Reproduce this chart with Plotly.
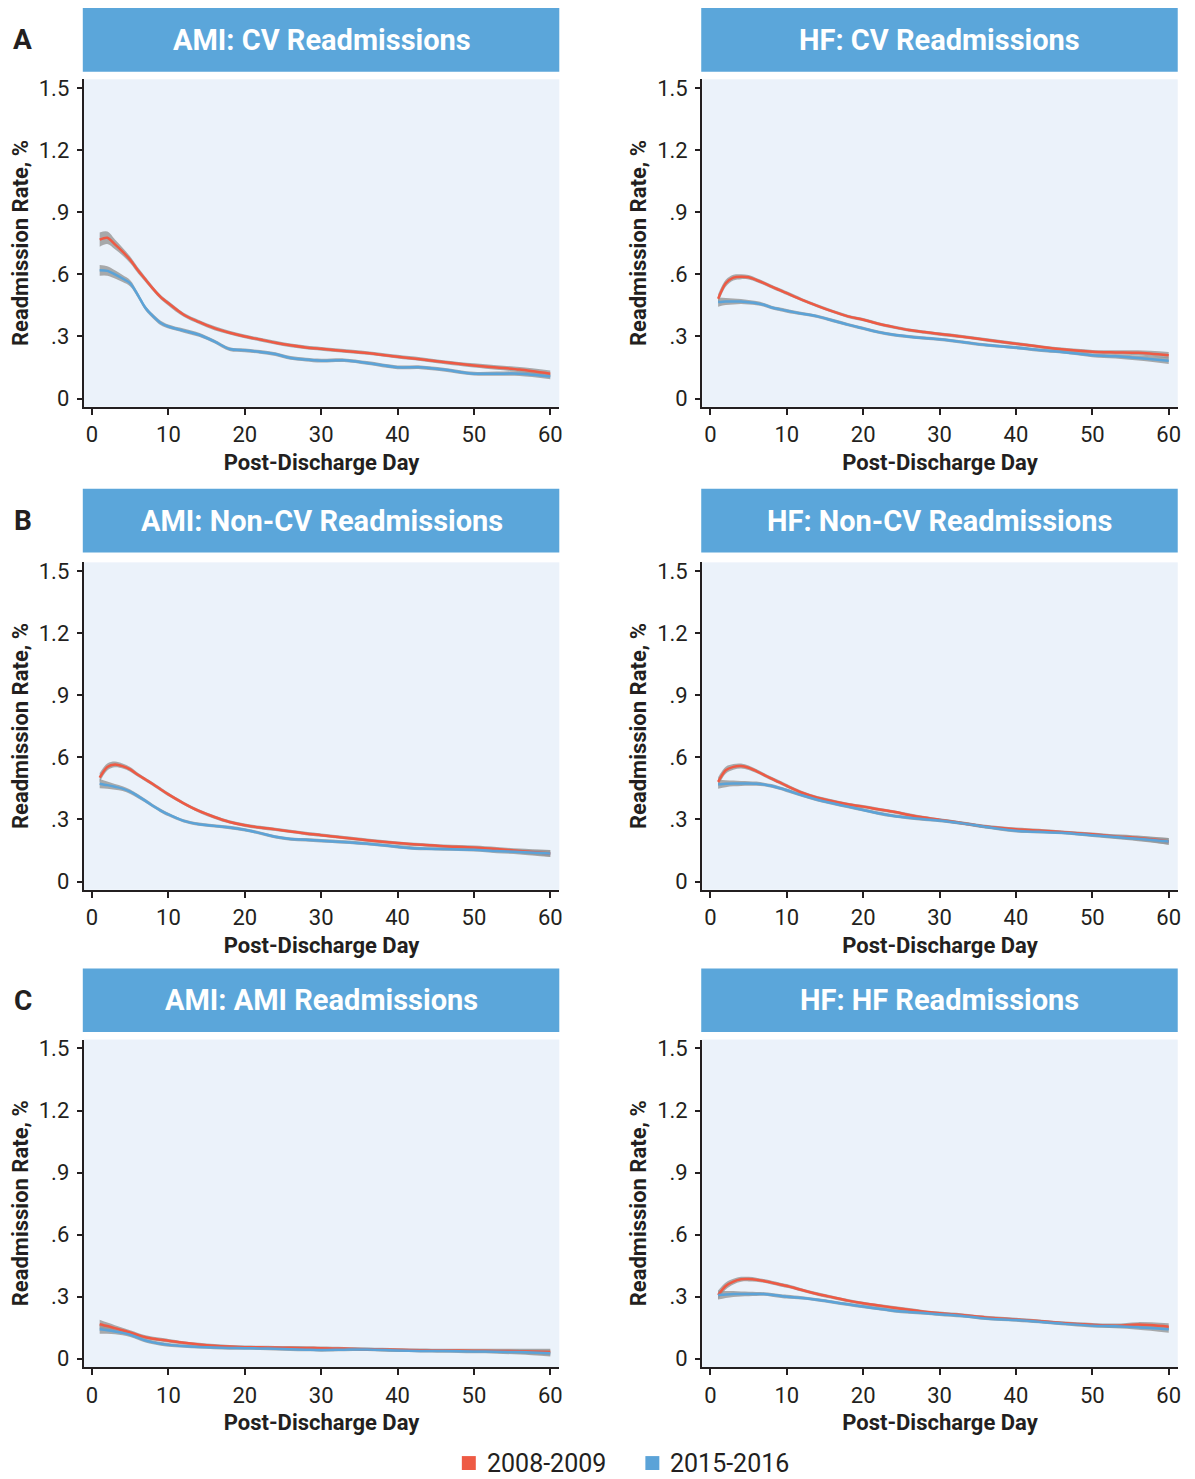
import plotly.graph_objects as go

W, H = 1195, 1479

DAYS = [1, 2, 3, 4, 5, 6, 7, 8, 9, 10, 12, 14, 16, 18, 20, 22, 24, 26, 28, 30,
        33, 36, 40, 43, 46, 50, 53, 56, 60]

X_TICKS = [0, 10, 20, 30, 40, 50, 60]
Y_TICKS = [0, 0.3, 0.6, 0.9, 1.2, 1.5]
Y_TICK_TEXT = ["0", ".3", ".6", ".9", "1.2", "1.5"]

SERIES_NAMES = ["2008-2009", "2015-2016"]

# ---- A: CV readmissions ----
AMI_CV_0809 = [0.768, 0.777, 0.745, 0.71, 0.67, 0.62, 0.575, 0.53, 0.49, 0.46, 0.405, 0.37,
               0.34, 0.318, 0.30, 0.285, 0.27, 0.257, 0.247, 0.24, 0.23, 0.22, 0.202, 0.19,
               0.176, 0.16, 0.15, 0.14, 0.12]
AMI_CV_1516 = [0.62, 0.617, 0.60, 0.58, 0.557, 0.50, 0.437, 0.397, 0.365, 0.348, 0.328, 0.308,
               0.276, 0.239, 0.233, 0.225, 0.215, 0.196, 0.188, 0.183, 0.185, 0.172, 0.151,
               0.151, 0.14, 0.12, 0.12, 0.12, 0.106]
HF_CV_0809 = [0.482, 0.557, 0.584, 0.589, 0.586, 0.573, 0.558, 0.541, 0.525, 0.509, 0.477,
              0.448, 0.421, 0.397, 0.381, 0.361, 0.345, 0.331, 0.321, 0.312, 0.299, 0.284,
              0.265, 0.251, 0.238, 0.226, 0.223, 0.221, 0.209]
HF_CV_1516 = [0.466, 0.469, 0.469, 0.469, 0.465, 0.461, 0.453, 0.44, 0.432, 0.424, 0.41, 0.397,
              0.377, 0.357, 0.339, 0.321, 0.308, 0.299, 0.292, 0.286, 0.273, 0.259, 0.246,
              0.234, 0.225, 0.209, 0.204, 0.196, 0.183]

# ---- B: Non-CV readmissions ----
AMI_NCV_0809 = [0.502, 0.554, 0.566, 0.558, 0.542, 0.516, 0.493, 0.47, 0.445, 0.421, 0.378,
                0.341, 0.312, 0.288, 0.272, 0.261, 0.252, 0.242, 0.232, 0.224, 0.212, 0.2,
                0.186, 0.178, 0.171, 0.165, 0.157, 0.147, 0.136]
AMI_NCV_1516 = [0.473, 0.466, 0.458, 0.449, 0.434, 0.413, 0.39, 0.365, 0.343, 0.324, 0.293,
                0.277, 0.269, 0.261, 0.25, 0.234, 0.216, 0.205, 0.202, 0.197, 0.191, 0.183,
                0.168, 0.159, 0.157, 0.154, 0.147, 0.143, 0.135]
HF_NCV_0809 = [0.482, 0.538, 0.554, 0.558, 0.55, 0.534, 0.516, 0.497, 0.48, 0.462, 0.429,
               0.405, 0.388, 0.373, 0.362, 0.349, 0.337, 0.322, 0.309, 0.298, 0.282, 0.266,
               0.253, 0.247, 0.239, 0.228, 0.218, 0.21, 0.194]
HF_NCV_1516 = [0.47, 0.473, 0.474, 0.474, 0.474, 0.473, 0.469, 0.462, 0.452, 0.441, 0.417,
               0.395, 0.378, 0.362, 0.346, 0.33, 0.317, 0.308, 0.301, 0.295, 0.281, 0.264,
               0.245, 0.24, 0.236, 0.224, 0.215, 0.207, 0.194]

# ---- C: condition-specific readmissions ----
AMI_AMI_0809 = [0.167, 0.158, 0.148, 0.138, 0.127, 0.115, 0.104, 0.097, 0.092, 0.087, 0.077,
                0.069, 0.063, 0.059, 0.056, 0.055, 0.054, 0.053, 0.052, 0.051, 0.049, 0.046,
                0.043, 0.041, 0.04, 0.039, 0.038, 0.036, 0.032]
AMI_AMI_1516 = [0.143, 0.138, 0.132, 0.125, 0.116, 0.102, 0.088, 0.079, 0.072, 0.067, 0.061,
                0.057, 0.054, 0.052, 0.051, 0.05, 0.048, 0.046, 0.044, 0.042, 0.044, 0.045,
                0.04, 0.038, 0.037, 0.035, 0.034, 0.032, 0.027]
HF_HF_0809 = [0.308, 0.352, 0.373, 0.384, 0.385, 0.382, 0.376, 0.368, 0.36, 0.352, 0.332,
              0.313, 0.297, 0.281, 0.268, 0.257, 0.247, 0.237, 0.227, 0.22, 0.211, 0.2, 0.19,
              0.182, 0.173, 0.164, 0.16, 0.165, 0.155]
HF_HF_1516 = [0.308, 0.311, 0.313, 0.313, 0.313, 0.313, 0.313, 0.309, 0.304, 0.3, 0.294,
              0.285, 0.274, 0.263, 0.252, 0.242, 0.232, 0.226, 0.221, 0.215, 0.207, 0.195,
              0.187, 0.179, 0.17, 0.16, 0.157, 0.152, 0.142]

# 95% CI half-widths
CI_AMI_CV_0809 = [0.034, 0.03, 0.024, 0.019, 0.016, 0.014, 0.013, 0.012, 0.011, 0.011, 0.01,
                  0.01, 0.01, 0.009, 0.009, 0.009, 0.009, 0.009, 0.009, 0.009, 0.009, 0.009,
                  0.009, 0.009, 0.009, 0.01, 0.011, 0.012, 0.015]
CI_AMI_CV_1516 = [0.026, 0.023, 0.02, 0.017, 0.015, 0.013, 0.012, 0.011, 0.011, 0.01, 0.01,
                  0.01, 0.009, 0.009, 0.009, 0.009, 0.009, 0.009, 0.009, 0.009, 0.009, 0.009,
                  0.009, 0.009, 0.009, 0.009, 0.01, 0.011, 0.013]
CI_OTHER = [0.022, 0.017, 0.014, 0.012, 0.011, 0.01, 0.009, 0.009, 0.009, 0.009, 0.008, 0.008,
            0.008, 0.008, 0.008, 0.008, 0.008, 0.008, 0.008, 0.008, 0.008, 0.008, 0.008, 0.008,
            0.008, 0.009, 0.01, 0.012, 0.016]

PANELS = [
    ("AMI: CV Readmissions", AMI_CV_0809, AMI_CV_1516, CI_AMI_CV_0809, CI_AMI_CV_1516),
    ("HF: CV Readmissions", HF_CV_0809, HF_CV_1516, CI_OTHER, CI_OTHER),
    ("AMI: Non-CV Readmissions", AMI_NCV_0809, AMI_NCV_1516, CI_OTHER, CI_OTHER),
    ("HF: Non-CV Readmissions", HF_NCV_0809, HF_NCV_1516, CI_OTHER, CI_OTHER),
    ("AMI: AMI Readmissions", AMI_AMI_0809, AMI_AMI_1516, CI_OTHER, CI_OTHER),
    ("HF: HF Readmissions", HF_HF_0809, HF_HF_1516, CI_OTHER, CI_OTHER),
]
ROW_LETTERS = ["A", "B", "C"]

# ---- style / geometry ----
RED = "#EE5A44"
BLUE = "#5BA3D8"
BAND = "rgba(150,150,150,0.8)"
BANNER = "#5BA6DA"
PLOT_BG = "#EBF2FA"
INK = "#231F20"
FONT = "Roboto"

COL_X = [(84.0, 560.7), (704.0, 1180.7)]
ROW_Y = [(76.7, 405.7), (562.0, 891.0), (1041.5, 1370.5)]
BANNER_Y = [(5, 69), (488, 552), (970, 1034)]
X_RANGE = [-1.08, 61.18]
Y_RANGE = [-0.04, 1.543]
LEGEND_Y = 1467
LEGEND_SQ_X = [463, 647]


def fx(px):
    return px / W


def fy(px):
    return 1 - px / H


fig = go.Figure()
layout = {}
shapes = []
annotations = []

for i, (title, red, blue, ci_r, ci_b) in enumerate(PANELS):
    r, c = divmod(i, 2)
    n = i + 1
    xa = "x" if n == 1 else f"x{n}"
    ya = "y" if n == 1 else f"y{n}"
    for vals, ci in ((red, ci_r), (blue, ci_b)):
        lo = [v - h for v, h in zip(vals, ci)]
        hi = [v + h for v, h in zip(vals, ci)]
        fig.add_trace(go.Scatter(x=DAYS, y=lo, mode="lines", line=dict(width=0, shape="spline"),
                                 hoverinfo="skip", showlegend=False, xaxis=xa, yaxis=ya))
        fig.add_trace(go.Scatter(x=DAYS, y=hi, mode="lines", line=dict(width=0, shape="spline"),
                                 fill="tonexty", fillcolor=BAND, hoverinfo="skip",
                                 showlegend=False, xaxis=xa, yaxis=ya))
    for vals, col, name in ((red, RED, SERIES_NAMES[0]), (blue, BLUE, SERIES_NAMES[1])):
        fig.add_trace(go.Scatter(x=DAYS, y=vals, mode="lines", name=name,
                                 line=dict(color=col, width=2.5, shape="spline", smoothing=0.8),
                                 showlegend=False, xaxis=xa, yaxis=ya))

    x0, x1 = COL_X[c]
    y0, y1 = ROW_Y[r]
    kx = "xaxis" if n == 1 else f"xaxis{n}"
    ky = "yaxis" if n == 1 else f"yaxis{n}"
    layout[kx] = dict(
        domain=[fx(x0), fx(x1)], anchor=ya, range=X_RANGE, tickvals=X_TICKS,
        showline=True, linecolor=INK, linewidth=2.2, ticks="outside", ticklen=6,
        tickwidth=2, tickcolor=INK, showgrid=False, zeroline=False,
        tickfont=dict(family=FONT, size=22, color=INK), ticklabelstandoff=1,
        title=dict(text="Post-Discharge Day", standoff=8,
                   font=dict(family=FONT, size=22, color=INK, weight="bold")),
        fixedrange=True,
    )
    layout[ky] = dict(
        domain=[fy(y1), fy(y0)], anchor=xa, range=Y_RANGE, tickvals=Y_TICKS,
        ticktext=Y_TICK_TEXT, showline=True, linecolor=INK, linewidth=2.2,
        ticks="outside", ticklen=5, tickwidth=2, tickcolor=INK, showgrid=False,
        zeroline=False, tickfont=dict(family=FONT, size=22, color=INK),
        ticklabelstandoff=3,
        title=dict(text="Readmission Rate, %", standoff=4,
                   font=dict(family=FONT, size=22, color=INK, weight="bold")),
        fixedrange=True,
    )
    by0, by1 = BANNER_Y[r]
    shapes.append(dict(type="rect", xref="paper", yref="paper", x0=fx(x0 - 1), x1=fx(x1),
                       y0=fy(by1), y1=fy(by0), fillcolor=BANNER, line=dict(width=0),
                       layer="below"))
    annotations.append(dict(text=title, xref="paper", yref="paper",
                            x=fx((x0 + x1) / 2), y=fy((by0 + by1) / 2), xanchor="center",
                            yanchor="middle", showarrow=False,
                            font=dict(family=FONT, size=29, color="white", weight="bold")))

for r, letter in enumerate(ROW_LETTERS):
    by0, by1 = BANNER_Y[r]
    annotations.append(dict(text=letter, xref="paper", yref="paper", x=fx(23),
                            y=fy((by0 + by1) / 2), xanchor="center", yanchor="middle",
                            showarrow=False,
                            font=dict(family=FONT, size=28, color=INK, weight="bold")))

# legend (drawn as squares + text)
for name, col, sx in zip(SERIES_NAMES, (RED, BLUE), LEGEND_SQ_X):
    shapes.append(dict(type="rect", xref="paper", yref="paper", x0=fx(sx), x1=fx(sx + 14),
                       y0=fy(LEGEND_Y + 7), y1=fy(LEGEND_Y - 7), fillcolor=col,
                       line=dict(width=0)))
    annotations.append(dict(text=name, xref="paper", yref="paper", x=fx(sx + 23),
                            y=fy(LEGEND_Y), xanchor="left", yanchor="middle",
                            showarrow=False,
                            font=dict(family=FONT, size=25, color=INK)))

fig.update_layout(
    width=W, height=H, margin=dict(l=0, r=0, t=0, b=0),
    paper_bgcolor="white", plot_bgcolor=PLOT_BG,
    shapes=shapes, annotations=annotations,
    showlegend=False,
    **layout,
)

fig.write_html("out.html", config={"displayModeBar": False},
               post_script="document.body.style.margin='0';")
